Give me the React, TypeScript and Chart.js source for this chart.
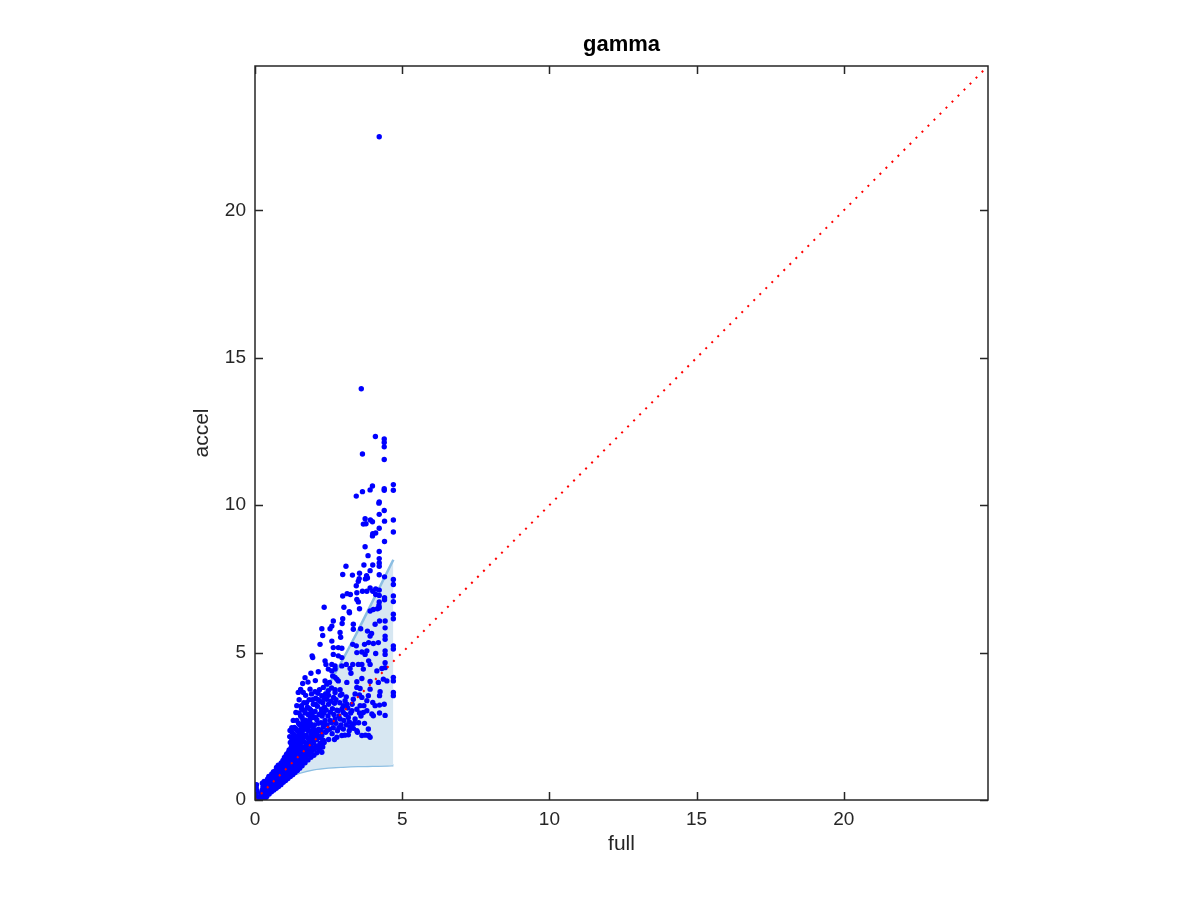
import React, { useEffect, useRef } from 'react';
import { Chart, registerables } from 'chart.js';

Chart.register(...registerables);

// ---------- text ----------
const chartTitle = 'gamma';
const xLabel = 'full';
const yLabel = 'accel';

// ---------- axes ----------
const axisMax = 24.9;
const tickValues = [0, 5, 10, 15, 20];

// ---------- shaded band ----------
const bandX = [0, 0.25, 0.5, 0.75, 1.0, 1.5, 2.0, 2.5, 3.0, 3.5, 4.0, 4.5, 4.7];
const bandLower = [0, 0.22, 0.42, 0.59, 0.72, 0.92, 1.04, 1.1, 1.13, 1.15, 1.16, 1.17, 1.18];
const bandUpper = [0, 0.2, 0.45, 0.8, 1.15, 2.0, 2.95, 3.9, 4.8, 5.75, 6.75, 7.75, 8.15];

// ---------- reference diagonal ----------
const diagonalX = [0, axisMax];
const diagonalY = [0, axisMax];

// ---------- scatter points (full, accel) ----------
const originPoints: [number, number][] = [
  [0.03, 0.05], [0.04, 0.14], [0.03, 0.24], [0.05, 0.33], [0.04, 0.42], [0.05, 0.52],
  [0.06, 0.1], [0.06, 0.28], [0.34, 0.0], [0.12, 0.05], [0.18, 0.12], [0.2, 0.22],
];

const blobPoints: [number, number][] = [
  [0.25, 0.08], [0.26, 0.21], [0.24, 0.33], [0.27, 0.44], [0.25, 0.57],
  [0.32, 0.06], [0.31, 0.16], [0.33, 0.27], [0.32, 0.4], [0.34, 0.5], [0.31, 0.63],
  [0.4, 0.12], [0.41, 0.25], [0.39, 0.36], [0.42, 0.49], [0.4, 0.6], [0.43, 0.71],
  [0.48, 0.2], [0.47, 0.33], [0.49, 0.44], [0.48, 0.57], [0.5, 0.68], [0.47, 0.8],
  [0.56, 0.28], [0.57, 0.4], [0.55, 0.53], [0.58, 0.64], [0.56, 0.77], [0.57, 0.88],
  [0.64, 0.34], [0.63, 0.46], [0.65, 0.58], [0.64, 0.71], [0.66, 0.83], [0.63, 0.96],
  [0.72, 0.4], [0.71, 0.52], [0.73, 0.65], [0.72, 0.76], [0.74, 0.89], [0.71, 1.0], [0.73, 1.1],
  [0.8, 0.46], [0.81, 0.59], [0.79, 0.7], [0.82, 0.83], [0.8, 0.94], [0.81, 1.07], [0.79, 1.18],
  [0.88, 0.52], [0.87, 0.65], [0.89, 0.76], [0.88, 0.89], [0.9, 1.0], [0.87, 1.13], [0.89, 1.26],
  [0.96, 0.6], [0.97, 0.72], [0.95, 0.85], [0.98, 0.96], [0.96, 1.09], [0.97, 1.2], [0.95, 1.34],
  [1.04, 0.66], [1.05, 0.79], [1.03, 0.9], [1.06, 1.03], [1.04, 1.14], [1.05, 1.27], [1.03, 1.4], [1.06, 1.52],
  [1.12, 0.73], [1.13, 0.84], [1.11, 0.97], [1.14, 1.08], [1.12, 1.21], [1.13, 1.34], [1.11, 1.48], [1.14, 1.62],
  [1.2, 0.8], [1.21, 0.93], [1.19, 1.04], [1.22, 1.17], [1.2, 1.3], [1.21, 1.45], [1.19, 1.58], [1.22, 1.74], [1.2, 1.95], [1.18, 2.15],
  [1.28, 0.86], [1.29, 0.99], [1.27, 1.1], [1.3, 1.25], [1.28, 1.38], [1.29, 1.53], [1.27, 1.68], [1.3, 1.85], [1.28, 2.05], [1.26, 2.3],
  [1.36, 0.93], [1.37, 1.04], [1.35, 1.19], [1.38, 1.32], [1.36, 1.47], [1.37, 1.62], [1.35, 1.79], [1.38, 1.96], [1.36, 2.18], [1.34, 2.46],
  [1.44, 1.0], [1.45, 1.13], [1.43, 1.26], [1.46, 1.41], [1.44, 1.56], [1.45, 1.73], [1.43, 1.9], [1.46, 2.11], [1.44, 2.35], [1.42, 2.7],
  [1.52, 1.08], [1.53, 1.23], [1.51, 1.36], [1.54, 1.53], [1.52, 1.68], [1.53, 1.87], [1.51, 2.05], [1.54, 2.29], [1.52, 2.56], [1.5, 2.95],
  [1.6, 1.16], [1.61, 1.31], [1.59, 1.46], [1.62, 1.63], [1.6, 1.8], [1.61, 2.01], [1.59, 2.22], [1.62, 2.49], [1.6, 2.8], [1.58, 3.2],
  [1.7, 1.26], [1.71, 1.43], [1.69, 1.58], [1.72, 1.77], [1.7, 1.95], [1.71, 2.17], [1.69, 2.4], [1.72, 2.71], [1.7, 3.05],
  [1.8, 1.36], [1.81, 1.53], [1.79, 1.7], [1.82, 1.91], [1.8, 2.1], [1.81, 2.35], [1.79, 2.6], [1.82, 2.91],
  [1.9, 1.45], [1.91, 1.63], [1.89, 1.82], [1.92, 2.03], [1.9, 2.25], [1.91, 2.51], [1.89, 2.78],
  [2.0, 1.52], [2.01, 1.73], [1.99, 1.94], [2.02, 2.17], [2.0, 2.4],
  [2.1, 1.6], [2.11, 1.83], [2.09, 2.05], [2.12, 2.31],
  [2.2, 1.7], [2.21, 1.93], [2.19, 2.15],
  [2.3, 1.8], [2.31, 2.03],
];

const blobExtraPoints: [number, number][] = [
  [0.36, 0.2], [0.36, 0.44], [0.44, 0.3], [0.44, 0.54], [0.52, 0.38], [0.52, 0.62], [0.6, 0.34],
  [0.6, 0.58], [0.6, 0.82], [0.68, 0.4], [0.68, 0.64], [0.68, 0.9], [0.76, 0.46], [0.76, 0.7],
  [0.76, 0.95], [0.84, 0.58], [0.84, 0.82], [0.84, 1.06], [0.92, 0.66], [0.92, 0.9], [0.92, 1.16],
  [1.0, 0.72], [1.0, 0.98], [1.0, 1.24], [1.0, 1.44], [1.08, 0.8], [1.08, 1.06], [1.08, 1.32],
  [1.08, 1.56], [1.16, 0.88], [1.16, 1.14], [1.16, 1.4], [1.16, 1.7], [1.24, 0.92], [1.24, 1.22],
  [1.24, 1.5], [1.24, 1.82], [1.24, 2.1], [1.32, 1.0], [1.32, 1.3], [1.32, 1.6], [1.32, 1.92],
  [1.32, 2.22], [1.4, 1.08], [1.4, 1.38], [1.4, 1.7], [1.4, 2.02], [1.4, 2.4], [1.48, 1.16],
  [1.48, 1.48], [1.48, 1.8], [1.48, 2.2], [1.48, 2.6], [1.56, 1.26], [1.56, 1.6], [1.56, 1.95],
  [1.56, 2.4], [1.64, 1.38], [1.64, 1.72], [1.64, 2.1], [1.64, 2.6], [1.64, 3.05], [1.75, 1.5],
  [1.75, 1.85], [1.75, 2.5], [1.75, 3.3], [1.85, 1.6], [1.85, 2.0], [1.85, 2.7], [1.85, 3.1],
  [1.95, 1.7], [1.95, 2.15], [1.95, 2.95], [1.95, 3.4], [2.05, 1.8], [2.05, 2.3], [2.05, 2.8],
  [2.05, 3.25], [2.15, 1.75], [2.15, 2.15], [2.15, 2.6], [2.15, 3.4], [2.25, 1.85], [2.25, 2.35],
  [2.25, 2.95], [2.35, 1.95], [2.35, 2.6], [2.35, 3.45],
];

const densePoints: [number, number][] = [
  [1.52, 2.55], [1.55, 2.85], [1.58, 3.1], [1.6, 2.3], [1.63, 2.7], [1.66, 3.3], [1.68, 2.5],
  [1.7, 2.95], [1.72, 3.55], [1.74, 2.2], [1.76, 2.65], [1.78, 3.15], [1.8, 2.42], [1.82, 2.88],
  [1.84, 3.4], [1.86, 2.1], [1.88, 2.6], [1.9, 3.05], [1.92, 3.6], [1.94, 2.35], [1.96, 2.8],
  [1.98, 3.25], [2.0, 2.05], [2.02, 2.55], [2.04, 3.0], [2.06, 3.45], [2.08, 2.25], [2.1, 2.72],
  [2.12, 3.18], [2.14, 3.62], [2.16, 2.4], [2.18, 2.9], [2.2, 3.35], [2.22, 2.12], [2.24, 2.62],
  [2.26, 3.08], [2.28, 2.85], [2.3, 3.3], [2.32, 2.48], [2.34, 2.95], [2.36, 3.15], [2.38, 2.7],
  [2.4, 2.3], [2.42, 3.05], [2.45, 2.55], [2.48, 2.85], [2.5, 3.25], [2.53, 2.4], [2.56, 2.98],
  [2.58, 3.35], [2.6, 2.62], [2.63, 3.1], [2.66, 2.45], [2.68, 2.9], [2.7, 3.28], [2.75, 2.6],
  [2.78, 3.05], [2.8, 2.35], [2.85, 2.85], [2.88, 3.3], [2.92, 2.55], [2.96, 3.1], [3.02, 2.7],
  [3.08, 2.9], [3.1, 2.55], [3.15, 3.12], [3.2, 2.65], [3.25, 2.95], [3.4, 2.75], [3.52, 2.62],
  [3.6, 2.85], [3.72, 2.6], [3.48, 2.3], [3.75, 2.2],
  [1.39, 2.97], [1.19, 2.36], [1.47, 3.65], [1.25, 2.45], [1.3, 2.7], [1.42, 3.2], [1.5, 3.4],
  [1.55, 3.75], [1.62, 3.95], [1.7, 4.15], [1.8, 4.0], [1.9, 4.3], [2.05, 4.05], [2.15, 4.35],
  [2.5, 2.05], [2.55, 2.7], [2.62, 2.25], [2.7, 2.05], [2.75, 3.4], [2.85, 2.45], [2.9, 3.55],
  [3.05, 2.2], [3.1, 3.5], [3.2, 2.35], [3.3, 3.25], [3.38, 2.6], [3.4, 3.6], [3.55, 2.95],
  [3.7, 3.2], [2.5, 3.55], [2.6, 3.8], [2.4, 3.6],
];

const lowerRightPoints: [number, number][] = [
  [2.27, 3.54], [2.44, 3.42], [2.67, 3.48], [2.72, 3.65], [2.95, 3.59], [3.06, 3.37], [3.0, 3.2],
  [3.12, 3.25], [3.34, 3.42], [3.55, 3.56], [3.63, 3.48], [3.57, 3.2], [3.8, 3.37], [3.85, 3.54],
  [4.0, 3.31], [4.08, 3.2], [4.23, 3.54], [4.23, 3.22], [4.39, 3.25],
  [2.83, 3.03], [3.0, 2.97], [3.29, 3.03], [3.46, 3.08], [3.68, 2.97], [3.8, 3.03], [3.97, 2.92],
  [4.02, 2.86], [4.23, 2.95], [4.42, 2.87],
  [2.72, 2.75], [2.89, 2.75], [3.17, 2.8], [3.29, 2.58], [3.0, 2.41], [3.23, 2.47], [3.34, 2.43],
  [3.85, 2.41], [3.91, 2.13], [3.63, 2.19], [2.95, 2.19], [3.17, 2.21], [2.78, 2.13], [2.44, 2.36],
  [2.27, 2.19], [2.32, 2.02], [2.27, 1.62], [3.46, 2.35], [3.86, 2.19],
];

const midPoints: [number, number][] = [
  [3.21, 6.35], [2.66, 6.07], [2.98, 6.15], [2.96, 5.99], [2.27, 5.81], [2.61, 5.9], [2.55, 5.81],
  [3.34, 5.96], [3.34, 5.79], [3.59, 5.81], [3.82, 5.73], [3.96, 5.65], [3.91, 5.56], [4.08, 5.96],
  [4.23, 6.07], [4.16, 6.49], [4.21, 6.6], [4.42, 6.07], [4.42, 5.84], [4.7, 6.3], [4.7, 6.15],
  [2.3, 5.58], [2.89, 5.68], [2.91, 5.52], [2.61, 5.39], [2.21, 5.28], [2.66, 5.17], [2.83, 5.17],
  [2.95, 5.15], [3.32, 5.28], [3.44, 5.23], [3.72, 5.28], [3.86, 5.34], [4.02, 5.31], [4.19, 5.34],
  [4.42, 5.56], [4.42, 5.45], [4.7, 5.23], [4.7, 5.12],
  [1.94, 4.89], [1.96, 4.83], [2.66, 4.94], [2.83, 4.89], [2.95, 4.83], [3.46, 5.0], [3.63, 5.02],
  [3.74, 4.94], [3.8, 5.06], [4.1, 4.97], [4.42, 5.06], [4.42, 4.94],
  [2.38, 4.72], [2.41, 4.6], [2.61, 4.6], [2.72, 4.55], [2.95, 4.55], [3.1, 4.6], [3.32, 4.6],
  [3.51, 4.6], [3.63, 4.6], [3.86, 4.72], [3.91, 4.6], [4.42, 4.66], [4.42, 4.49],
  [2.49, 4.44], [2.61, 4.38], [2.72, 4.44], [3.23, 4.46], [3.26, 4.3], [3.68, 4.44], [4.14, 4.38],
  [4.31, 4.46],
  [2.64, 4.21], [2.72, 4.16], [2.78, 4.1], [2.83, 4.04], [2.38, 4.04], [2.44, 3.93], [2.53, 3.99],
  [3.12, 3.99], [3.46, 4.01], [3.63, 4.12], [3.91, 4.02], [4.19, 3.99], [4.36, 4.1], [4.48, 4.04],
  [4.7, 4.16], [4.7, 4.04],
  [1.64, 3.65], [1.87, 3.76], [2.04, 3.67], [2.19, 3.74], [2.32, 3.82], [2.49, 3.71], [2.72, 3.74],
  [2.89, 3.74], [3.46, 3.82], [3.57, 3.78], [3.91, 3.76], [4.25, 3.67], [4.7, 3.65], [4.7, 3.54],
];

const highPoints: [number, number][] = [
  [4.22, 22.5], [3.61, 13.95], [4.09, 12.33], [4.39, 12.25], [4.39, 12.13], [4.39, 11.98],
  [3.65, 11.74], [4.39, 11.55], [4.7, 10.7], [3.99, 10.65], [3.91, 10.52], [3.65, 10.46],
  [3.44, 10.31], [4.39, 10.56], [4.39, 10.51], [4.7, 10.51], [4.22, 10.11], [4.39, 9.82],
  [4.21, 10.07], [4.22, 9.69], [3.74, 9.54], [3.92, 9.5], [3.99, 9.44], [4.7, 9.5], [3.68, 9.36],
  [3.77, 9.37], [4.4, 9.46], [4.22, 9.22], [4.1, 9.06], [4.0, 9.03], [3.99, 8.96], [4.7, 9.09],
  [4.4, 8.77], [3.74, 8.59], [4.22, 8.43], [3.84, 8.29], [4.22, 8.19], [4.22, 8.04], [4.22, 7.93],
  [4.0, 7.97], [3.7, 7.97], [3.09, 7.93], [3.91, 7.78], [3.55, 7.69], [2.98, 7.65], [3.31, 7.63],
  [4.22, 7.64], [3.79, 7.61], [3.82, 7.53], [4.4, 7.57], [3.54, 7.51], [3.51, 7.42], [3.75, 7.5],
  [3.44, 7.27], [4.7, 7.48], [4.7, 7.31], [3.65, 7.08], [3.8, 7.08], [3.91, 7.19], [4.0, 7.08],
  [4.1, 7.16], [4.22, 7.12], [4.22, 6.94], [4.1, 6.97], [4.4, 6.86], [4.4, 6.79], [3.46, 7.03],
  [3.13, 7.0], [3.24, 6.97], [2.98, 6.92], [4.7, 6.73], [3.46, 6.8], [3.51, 6.72], [4.22, 6.72],
  [2.35, 6.54], [3.02, 6.54], [3.55, 6.49], [4.02, 6.46], [4.22, 6.52], [3.91, 6.41], [3.2, 6.39],
  [4.7, 6.92],
];

const allPoints = [
  ...originPoints, ...blobPoints, ...blobExtraPoints, ...densePoints,
  ...lowerRightPoints, ...midPoints, ...highPoints,
];

const FONT = 'Helvetica, "Liberation Sans", Arial, sans-serif';
const TEXT_COLOR = '#262626';

const framePlugin = {
  id: 'matlabFrame',
  afterDraw(chart: any) {
    const { ctx, chartArea } = chart;
    const { left, right, top, bottom } = chartArea;
    const xs = chart.scales.x;
    const ys = chart.scales.y;
    ctx.save();
    ctx.strokeStyle = TEXT_COLOR;
    ctx.lineWidth = 1.5;
    ctx.beginPath();
    ctx.rect(left, top, right - left, bottom - top);
    const tl = 8;
    tickValues.forEach((v) => {
      const px = Math.round(xs.getPixelForValue(v)) + 0.5;
      ctx.moveTo(px, bottom);
      ctx.lineTo(px, bottom - tl);
      ctx.moveTo(px, top);
      ctx.lineTo(px, top + tl);
      const py = Math.round(ys.getPixelForValue(v)) + 0.5;
      ctx.moveTo(left, py);
      ctx.lineTo(left + tl, py);
      ctx.moveTo(right, py);
      ctx.lineTo(right - tl, py);
    });
    ctx.stroke();
    ctx.fillStyle = '#000';
    ctx.font = `bold 22px ${FONT}`;
    ctx.textAlign = 'center';
    ctx.textBaseline = 'middle';
    ctx.fillText(chartTitle, (left + right) / 2, 45);
    ctx.restore();
  },
};

export default function App() {
  const canvasRef = useRef<HTMLCanvasElement | null>(null);

  useEffect(() => {
    document.body.style.margin = '0';
    const canvas = canvasRef.current;
    if (!canvas) return;

    const bandEdge = 'rgb(140, 190, 226)';
    const bandFill = 'rgb(215, 231, 242)';

    const chart = new Chart(canvas, {
      type: 'scatter',
      data: {
        datasets: [
          {
            label: 'diagonal',
            data: diagonalX.map((x, i) => ({ x, y: diagonalY[i] })),
            showLine: true,
            borderColor: '#ff0000',
            borderWidth: 2,
            borderDash: [2, 6.5],
            pointRadius: 0,
            fill: false,
            order: 0,
          },
          {
            label: 'points',
            data: allPoints.map(([x, y]) => ({ x, y })),
            backgroundColor: '#0000ff',
            borderWidth: 0,
            pointRadius: 2.7,
            order: 1,
          },
          {
            label: 'upper',
            data: bandX.map((x, i) => ({ x, y: bandUpper[i] })),
            showLine: true,
            borderColor: bandEdge,
            borderWidth: 2.5,
            backgroundColor: bandFill,
            pointRadius: 0,
            fill: '+1',
            cubicInterpolationMode: 'monotone',
            order: 2,
          },
          {
            label: 'lower',
            data: bandX.map((x, i) => ({ x, y: bandLower[i] })),
            showLine: true,
            borderColor: bandEdge,
            borderWidth: 2.5,
            pointRadius: 0,
            fill: false,
            cubicInterpolationMode: 'monotone',
            order: 3,
          },
        ] as any,
      },
      options: {
        animation: false,
        responsive: false,
        devicePixelRatio: 1,
        layout: { padding: { top: 66, right: 212, left: 0, bottom: 0 } },
        plugins: {
          legend: { display: false },
          tooltip: { enabled: false },
          title: { display: false },
        },
        scales: {
          x: {
            type: 'linear',
            min: 0,
            max: axisMax,
            afterBuildTicks: (s: any) => {
              s.ticks = tickValues.map((value) => ({ value }));
            },
            afterFit: (s: any) => {
              s.height = 100;
            },
            grid: { display: false, drawTicks: false },
            border: { display: false },
            ticks: { padding: 8, color: TEXT_COLOR, font: { size: 19, family: FONT } },
            title: {
              display: true,
              text: xLabel,
              color: TEXT_COLOR,
              font: { size: 21, family: FONT },
              padding: { top: 0, bottom: 43 },
            },
          },
          y: {
            type: 'linear',
            min: 0,
            max: axisMax,
            afterBuildTicks: (s: any) => {
              s.ticks = tickValues.map((value) => ({ value }));
            },
            afterFit: (s: any) => {
              s.width = 255;
            },
            grid: { display: false, drawTicks: false },
            border: { display: false },
            ticks: { padding: 9, color: TEXT_COLOR, font: { size: 19, family: FONT } },
            title: {
              display: true,
              text: yLabel,
              color: TEXT_COLOR,
              font: { size: 21, family: FONT },
              padding: { top: 190, bottom: 0 },
            },
          },
        },
      } as any,
      plugins: [framePlugin],
    });

    return () => chart.destroy();
  }, []);

  return (
    <div style={{ position: 'fixed', left: 0, top: 0, width: 1200, height: 900, background: '#fff' }}>
      <canvas ref={canvasRef} width={1200} height={900} />
    </div>
  );
}
